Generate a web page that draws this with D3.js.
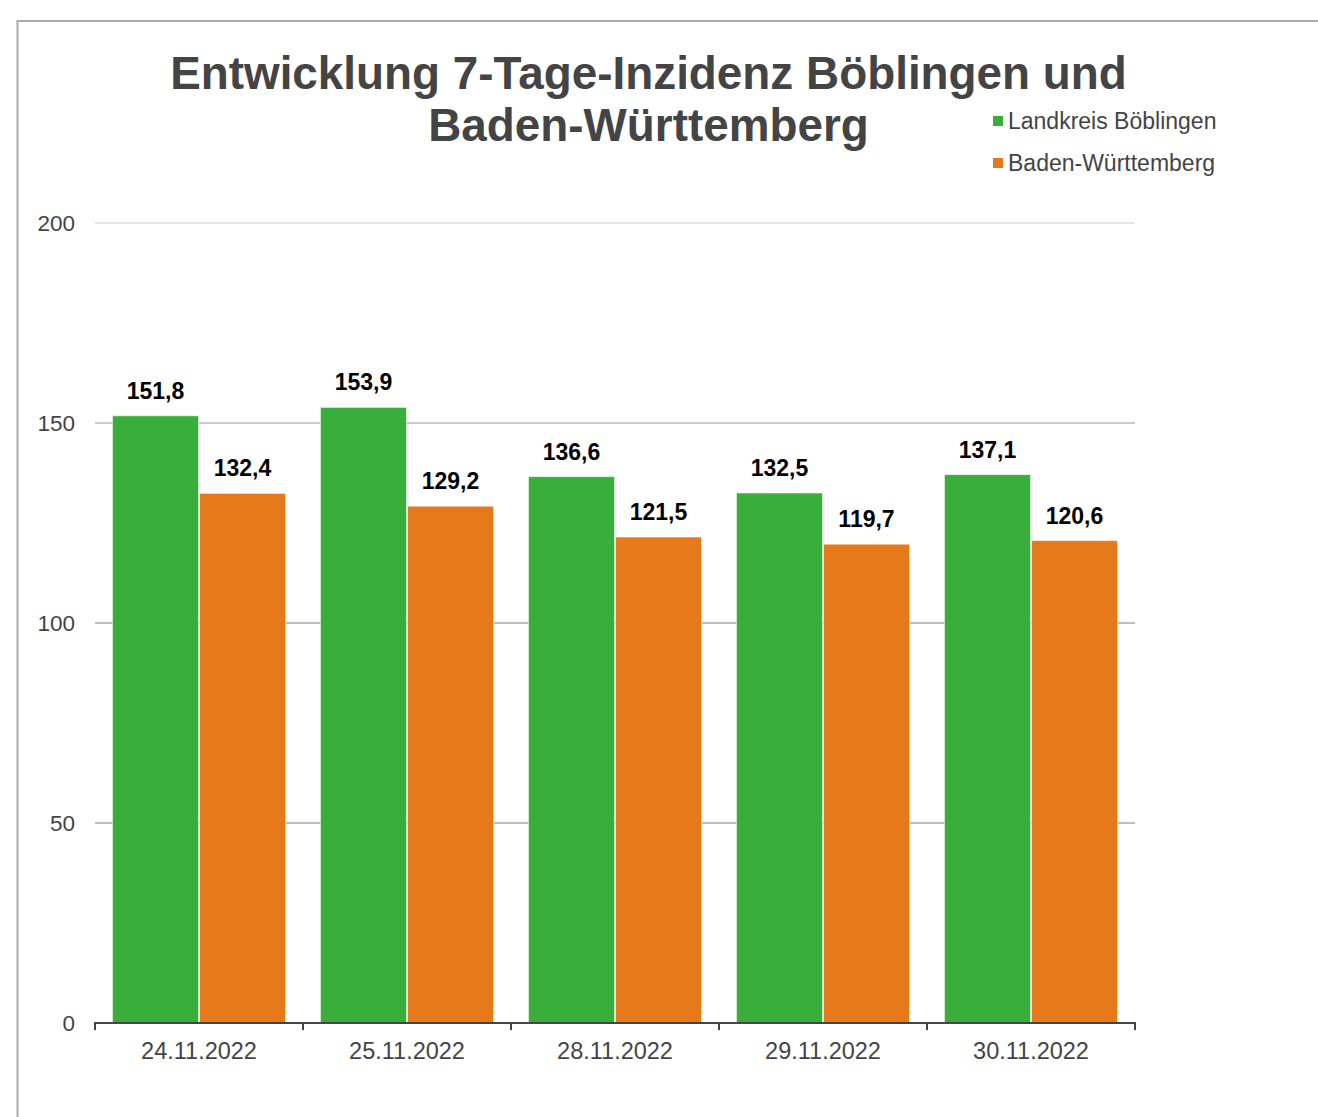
<!DOCTYPE html>
<html><head><meta charset="utf-8">
<script src="https://cdn.jsdelivr.net/npm/d3@7"></script>
<style>html,body{margin:0;padding:0;background:#fff;} svg{display:block;font-family:"Liberation Sans",Arial,sans-serif;}</style>
</head><body>
<script>
const categories = ["24.11.2022","25.11.2022","28.11.2022","29.11.2022","30.11.2022"];
const seriesNames = ["Landkreis Böblingen","Baden-Württemberg"];
const boeblingen = [151.8,153.9,136.6,132.5,137.1];
const bw = [132.4,129.2,121.5,119.7,120.6];
const yTicks = [0,50,100,150,200];
const colors = ["#3aae3a","#e6791a"];
const titleLines = ["Entwicklung 7-Tage-Inzidenz Böblingen und","Baden-Württemberg"];

const W=1318,H=1117;
const svg=d3.select("body").append("svg").attr("width",W).attr("height",H);
svg.append("rect").attr("x",17.5).attr("y",21).attr("width",1400).attr("height",1200)
  .attr("fill","#fff").attr("stroke","#aaaaaa").attr("stroke-width",2);

const x0=d3.scaleBand().domain(categories).range([95,1135]).padding(0);
const x1=d3.scaleBand().domain(seriesNames).range([0,x0.bandwidth()]).paddingInner(0).paddingOuter(0.195);
const y=d3.scaleLinear().domain([0,200]).range([1023,223]);

// gridlines
const gridCol={200:"#e6e6e6",150:"#cccccc",100:"#bdbdbd",50:"#bdbdbd"};
svg.append("g").selectAll("line").data(yTicks.filter(d=>d>0)).join("line")
  .attr("x1",95).attr("x2",1135).attr("y1",d=>y(d)).attr("y2",d=>y(d))
  .attr("stroke",d=>gridCol[d]).attr("stroke-width",2);

// y labels
svg.append("g").selectAll("text").data(yTicks).join("text")
  .attr("x",75).attr("y",d=>y(d)).attr("dy","0.35em").attr("text-anchor","end")
  .attr("font-size",22.5).attr("fill","#444").text(d=>d);

const data=categories.map((c,i)=>({cat:c,vals:[boeblingen[i],bw[i]]}));
const groups=svg.append("g").selectAll("g").data(data).join("g")
  .attr("transform",d=>`translate(${x0(d.cat)},0)`);
groups.selectAll("rect").data(d=>d.vals.map((v,j)=>({v,s:seriesNames[j],j}))).join("rect")
  .attr("x",d=>x1(d.s)+0.5).attr("width",x1.bandwidth()-1)
  .attr("y",d=>y(d.v)).attr("height",d=>y(0)-y(d.v))
  .attr("fill",d=>colors[d.j]).attr("stroke","rgba(255,255,255,0.55)").attr("stroke-width",1);
groups.selectAll("text").data(d=>d.vals.map((v,j)=>({v,s:seriesNames[j],j}))).join("text")
  .attr("x",d=>x1(d.s)+x1.bandwidth()/2).attr("y",d=>y(d.v)-17)
  .attr("text-anchor","middle").attr("font-size",23).attr("font-weight","bold").attr("fill","#000")
  .text(d=>d3.format(".1f")(d.v).replace(".",","));

// x axis
const xa=svg.append("g");
xa.append("line").attr("x1",95).attr("x2",1135).attr("y1",1023).attr("y2",1023).attr("stroke","#444").attr("stroke-width",2);
const bounds=categories.map(c=>x0(c)).concat([x0.range()[1]]);
xa.selectAll("line.t").data(bounds).join("line").attr("class","t")
  .attr("x1",d=>d).attr("x2",d=>d).attr("y1",1022).attr("y2",1030).attr("stroke","#444").attr("stroke-width",2);
xa.selectAll("text").data(categories).join("text")
  .attr("x",d=>x0(d)+x0.bandwidth()/2).attr("y",1059).attr("text-anchor","middle")
  .attr("font-size",23.5).attr("fill","#444").text(d=>d);

// title
const t1=svg.append("text").attr("x",648.5).attr("y",89).attr("text-anchor","middle")
  .attr("font-size",44).attr("font-weight","bold").attr("fill","#444").text(titleLines[0]);
const len=t1.node().getComputedTextLength();
const fs=44*957/len;
t1.attr("font-size",fs);
svg.append("text").attr("x",648.5).attr("y",141).attr("text-anchor","middle")
  .attr("font-size",fs).attr("font-weight","bold").attr("fill","#444").text(titleLines[1]);

// legend
const lg=svg.append("g").selectAll("g").data(seriesNames).join("g")
  .attr("transform",(d,i)=>`translate(993,${121+i*42})`);
lg.append("rect").attr("x",0).attr("y",-5).attr("width",10).attr("height",10).attr("fill",(d,i)=>colors[i]);
lg.append("text").attr("x",15).attr("y",0).attr("dy","0.35em").attr("font-size",23).attr("fill","#444").text(d=>d);
</script>
</body></html>
